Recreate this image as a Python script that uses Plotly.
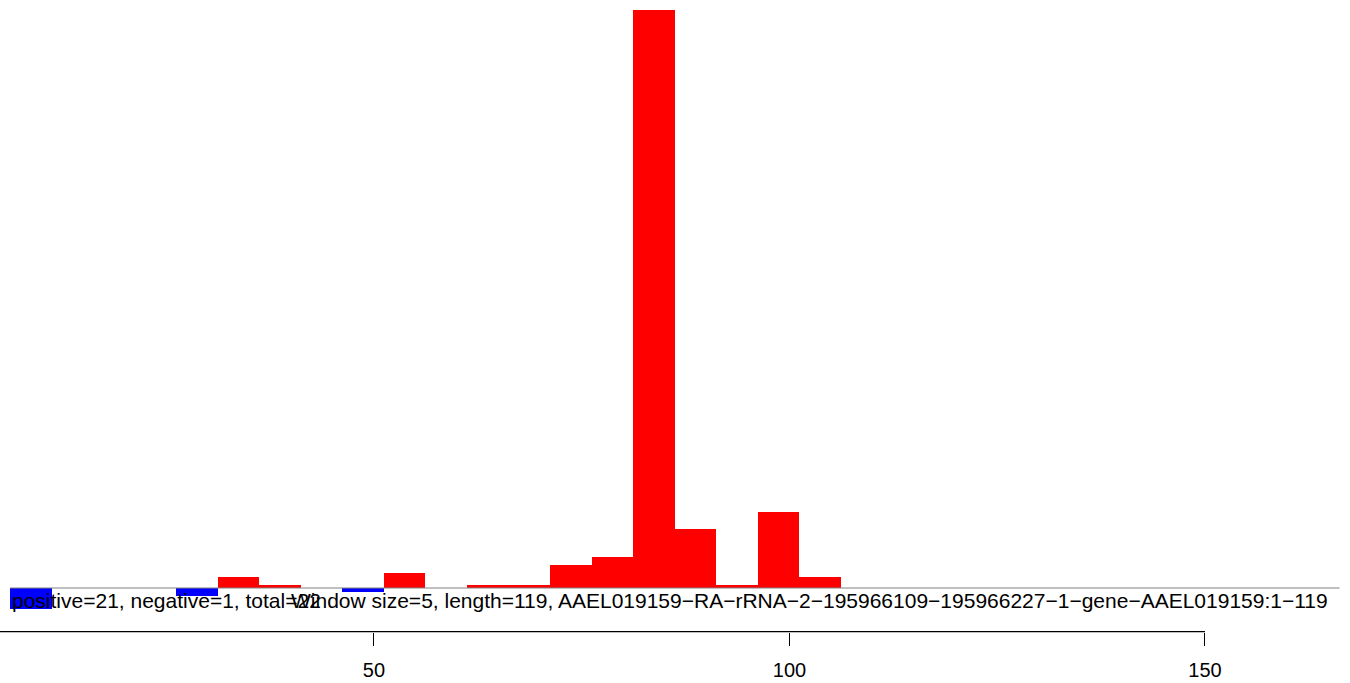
import plotly.graph_objects as go

# ---- data ----
window_size = 5
seq_length = 119
first_bar_start = 6.2          # axis position of the first window's left edge
n_windows_drawn = 32           # extent of the baseline (in windows)
positive_cov = [0, 0, 0, 0, 0, 3, 0.9, 0, 0, 4, 0, 0.9, 0.9, 6, 8.2, 152, 15.5, 0.9, 20, 3, 0, 0, 0, 0]
negative_cov = [5.5, 0, 0, 0, 2.1, 0, 0, 0, 1.05, 0, 0, 0, 0, 0, 0, 0, 0, 0, 0, 0, 0, 0, 0, 0]
tick_vals = [50, 100, 150]
summary_text = "positive=21, negative=1, total=22"
title_text = ("Window size=5, length=119, AAEL019159\u2212RA\u2212rRNA\u22122\u2212195966109"
              "\u2212195966227\u22121\u2212gene\u2212AAEL019159:1\u2212119")

centers = [first_bar_start + window_size * (i + 0.5) for i in range(len(positive_cov))]

W, H = 1350, 683
x_range = [5.0, 167.45]
y_range = [-25, 154.74]

fig = go.Figure()
fig.add_trace(go.Bar(x=centers, y=positive_cov, width=window_size,
                     marker=dict(color="#FF0000", line=dict(width=0)), showlegend=False,
                     hoverinfo="skip"))
fig.add_trace(go.Bar(x=centers, y=[-v for v in negative_cov], width=window_size,
                     marker=dict(color="#0000FF", line=dict(width=0)), showlegend=False,
                     hoverinfo="skip"))

axis_pos = 1 - 631.7 / H

# baseline
fig.add_shape(type="line", xref="x", yref="y",
              x0=first_bar_start, x1=first_bar_start + n_windows_drawn * window_size,
              y0=0, y1=0, line=dict(color="#808080", width=1), layer="above")
# axis line (from off-plot 0 to last tick)
fig.add_shape(type="line", xref="x", yref="paper",
              x0=0, x1=tick_vals[-1], y0=axis_pos, y1=axis_pos,
              line=dict(color="black", width=1.2), layer="above")

txt_font = dict(size=21, color="black", family="Liberation Sans, Arial")
fig.add_annotation(text=summary_text, xref="paper", yref="paper",
                   x=10 / W, y=1 - 600 / H, xanchor="left", yanchor="middle",
                   showarrow=False, font=txt_font)
fig.add_annotation(text=title_text, xref="paper", yref="paper",
                   x=1330 / W, y=1 - 600 / H, xanchor="right", yanchor="middle",
                   showarrow=False, font=txt_font)

fig.update_layout(
    width=W, height=H,
    margin=dict(l=0, r=0, t=0, b=0, autoexpand=False),
    plot_bgcolor="white", paper_bgcolor="white",
    barmode="relative", bargap=0,
    font=dict(family="Liberation Sans, Arial", size=20, color="black"),
    xaxis=dict(range=x_range, anchor="free", position=axis_pos,
               tickvals=tick_vals, ticktext=[str(v) for v in tick_vals],
               ticks="outside", ticklen=13, tickwidth=1.2, tickcolor="black",
               ticklabelstandoff=7,
               showline=False, showgrid=False, zeroline=False, automargin=False,
               tickfont=dict(size=20, color="black")),
    yaxis=dict(range=y_range, visible=False, showgrid=False, zeroline=False),
)

fig.write_html("out.html", config={"displayModeBar": False},
               post_script="document.body.style.margin='0';document.body.style.overflow='hidden';")
